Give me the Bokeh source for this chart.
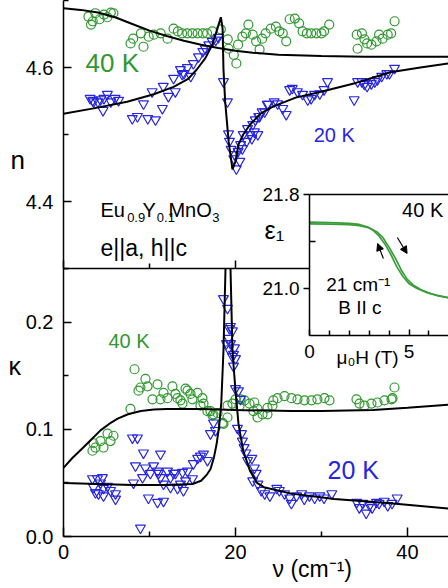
from bokeh.plotting import figure
from bokeh.models import (Range1d, FixedTicker, PrintfTickFormatter, Label, Arrow,
                          NormalHead, LinearAxis, Column)
from bokeh.embed import file_html
from bokeh.resources import INLINE

# ---------------- data: refractive index n (top panel) ----------------
nu_n40 = [2.9, 3.2, 3.4, 3.7, 4.2, 4.7, 5.1, 5.5, 5.8,
          7.8, 8.1, 9.0, 9.3, 9.9, 10.5, 11.3, 12.1, 12.8, 13.3, 13.8, 14.4, 15.0, 15.6, 16.2, 16.7, 17.3, 18.3,
          19.1, 19.2, 19.8, 20.1, 20.3, 20.8, 21.2, 21.5, 22.0, 22.4, 22.8, 23.1, 23.5, 24.1, 24.7, 25.1, 25.5,
          25.9, 26.3, 26.9, 27.4, 27.8, 28.3, 28.8, 29.4, 30.0, 30.3, 30.9,
          34.1, 34.2, 34.7, 35.0, 35.3, 35.8, 36.4, 36.7, 37.1, 37.7, 38.1, 38.5]
n40 = [4.676, 4.664, 4.669, 4.681, 4.672, 4.679, 4.675, 4.682, 4.681,
       4.636, 4.643, 4.651, 4.631, 4.646, 4.649, 4.651, 4.643, 4.658, 4.654, 4.651, 4.651, 4.651, 4.651, 4.651, 4.651, 4.654, 4.657,
       4.642, 4.628, 4.619, 4.606, 4.634, 4.646, 4.651, 4.664, 4.649, 4.639, 4.627, 4.643, 4.651, 4.658, 4.661, 4.654, 4.651,
       4.639, 4.672, 4.673, 4.666, 4.654, 4.651, 4.651, 4.651, 4.651, 4.654, 4.664,
       4.649, 4.628, 4.651, 4.642, 4.636, 4.634, 4.639, 4.649, 4.643, 4.649, 4.651, 4.669]

nu_n20 = [3.1, 3.4, 3.5, 4.0, 4.3, 4.6, 4.7, 5.1, 5.5, 6.0, 6.4,
          8.0, 8.6, 9.3, 9.8, 10.3, 10.7, 11.5, 11.6, 12.2, 12.8, 13.0, 13.6, 13.8, 14.0, 14.4, 14.8, 15.1, 15.7,
          16.2, 16.5, 16.9, 17.3, 17.7, 18.0,
          18.6, 19.07, 19.19, 19.3, 19.5, 19.8, 19.9, 20.1, 20.3, 20.5, 20.6, 20.8, 20.9, 21.3, 21.4, 21.7, 21.9,
          22.0, 22.2, 22.3, 22.6, 22.7, 22.8, 23.1, 23.4, 23.7, 23.8, 24.5, 24.9, 25.5, 25.9, 26.3, 26.6, 27.2,
          27.8, 28.4, 28.8, 29.2, 29.8, 30.3, 30.7,
          33.8, 34.2, 34.7, 35.0, 35.3, 35.8, 36.2, 36.5, 37.0, 37.6, 37.9, 38.5]
n20 = [4.554, 4.551, 4.549, 4.549, 4.552, 4.536, 4.554, 4.560, 4.549, 4.554, 4.551,
       4.524, 4.527, 4.546, 4.524, 4.564, 4.522, 4.539, 4.572, 4.557, 4.584, 4.564, 4.597, 4.590, 4.591, 4.600,
       4.587, 4.606, 4.616, 4.624, 4.628, 4.634, 4.639, 4.641, 4.645,
       4.579, 4.549, 4.501, 4.490, 4.478, 4.464, 4.470, 4.449, 4.475, 4.460, 4.485, 4.479, 4.500, 4.490, 4.509,
       4.500, 4.494, 4.515, 4.504, 4.522, 4.500, 4.527, 4.527, 4.534, 4.534, 4.545, 4.545, 4.549, 4.546, 4.539,
       4.530, 4.567, 4.569, 4.564, 4.560, 4.552, 4.554, 4.560, 4.561, 4.567, 4.579,
       4.552, 4.579, 4.579, 4.575, 4.572, 4.576, 4.579, 4.582, 4.587, 4.591, 4.591, 4.599]

fit_nu_n40 = [0, 2, 4, 6, 8, 10, 12, 14, 16, 18, 20, 22, 25, 30, 35, 40, 44.8]
fit_n40 = [4.6885, 4.686, 4.682, 4.675, 4.665, 4.655, 4.647, 4.640, 4.634, 4.629, 4.625, 4.622, 4.619,
           4.617, 4.616, 4.616, 4.616]

fit_nu_n20 = [0, 3.5, 7.4, 10.5, 12.8, 14.5, 15.5, 16.5, 17.3, 17.9, 18.3, 18.5, 18.6, 18.8, 19.2, 19.65,
              20.0, 20.35, 20.9, 21.7, 22.9, 24.4, 27.0, 30.3, 34.0, 38.0, 41.5, 44.8]
fit_n20 = [4.531, 4.539, 4.549, 4.560, 4.571, 4.583, 4.597, 4.614, 4.634, 4.658, 4.675, 4.658, 4.598, 4.549,
           4.490, 4.448, 4.460, 4.485, 4.500, 4.515, 4.531, 4.542, 4.555, 4.565, 4.577, 4.593, 4.600, 4.606]

# ---------------- data: extinction kappa (bottom panel) ----------------
nu_k40 = [3.37, 3.49, 3.72, 4.30, 4.65, 5.12, 5.47, 5.81,
          7.79, 8.26, 8.72, 8.95, 9.53, 9.77, 10.35, 10.93, 11.28, 11.63, 12.09, 12.67, 13.02, 13.26, 13.6,
          13.84, 14.19, 14.42, 14.77, 15.0, 15.58, 15.93, 16.16, 16.28, 16.74, 17.09, 17.33, 17.44, 17.91, 18.49, 18.6,
          19.07, 19.07, 19.65, 20.0, 20.47, 20.58, 21.05, 21.63, 22.09, 22.2, 22.56, 22.56, 23.14, 23.72, 23.72,
          24.3, 24.4, 24.88, 25.7, 26.51, 27.21, 28.02, 28.84, 29.53, 30.35, 30.93,
          34.07, 34.42, 35.0, 35.81, 36.51, 37.33, 38.14, 38.26, 38.49]
k40 = [0.080, 0.087, 0.083, 0.089, 0.083, 0.096, 0.089, 0.094,
       0.119, 0.156, 0.136, 0.139, 0.147, 0.140, 0.128, 0.142, 0.128, 0.134, 0.129, 0.140, 0.133, 0.129, 0.127,
       0.124, 0.138, 0.136, 0.133, 0.128, 0.134, 0.122, 0.129, 0.124, 0.117, 0.117, 0.113, 0.114, 0.115, 0.106, 0.105,
       0.111, 0.122, 0.124, 0.128, 0.122, 0.128, 0.127, 0.124, 0.117, 0.125, 0.111, 0.119, 0.114, 0.114, 0.120,
       0.122, 0.127, 0.129, 0.131, 0.129, 0.128, 0.127, 0.127, 0.128, 0.129, 0.127,
       0.128, 0.124, 0.122, 0.124, 0.125, 0.127, 0.128, 0.129, 0.139]

nu_k20 = [3.37, 3.49, 3.72, 3.95, 4.07, 4.30, 4.53, 4.65, 4.65, 5.12, 5.47, 6.05, 6.05,
          8.02, 8.14, 8.37, 8.6, 8.95, 9.19, 9.3, 9.53, 9.88, 10.1, 10.47, 10.93, 10.93, 11.05, 11.28, 11.28,
          11.63, 11.63, 12.09, 12.44, 12.44, 12.79, 13.02, 13.26, 13.6, 13.84, 13.95, 14.2, 14.42, 15.0, 15.1,
          15.6, 15.93, 16.28, 16.74, 17.09, 17.44, 17.67,
          18.6, 18.95, 19.07, 19.19, 19.19, 19.3, 19.42, 19.42, 19.65, 19.65, 19.77, 19.88, 20.0, 19.77, 20.0,
          20.35, 20.58, 20.23,
          20.7, 20.8, 21.0, 21.2, 21.4, 21.9, 22.2, 22.4, 22.0, 22.6, 23.0, 23.4, 24.0, 24.8, 25.1, 25.7, 26.3,
          26.5, 27.1, 27.7, 28.0, 28.6, 29.2, 29.8, 30.3, 31.2,
          34.1, 34.4, 34.8, 35.2, 35.6, 35.9, 36.4, 36.7, 37.3, 37.7, 38.2, 38.8]
k20 = [0.054, 0.046, 0.041, 0.054, 0.040, 0.050, 0.055, 0.045, 0.038, 0.047, 0.043, 0.040, 0.035,
       0.092, 0.050, 0.066, 0.092, 0.008, 0.055, 0.078, 0.064, 0.036, 0.059, 0.066, 0.061, 0.032, 0.059, 0.077,
       0.055, 0.049, 0.033, 0.061, 0.055, 0.046, 0.059, 0.059, 0.045, 0.049, 0.060, 0.043, 0.052, 0.061, 0.054,
       0.068, 0.073, 0.075, 0.077, 0.071, 0.096, 0.106, 0.099,
       0.222, 0.180, 0.213, 0.185, 0.175, 0.194, 0.196, 0.180, 0.192, 0.168, 0.170, 0.176, 0.166, 0.159, 0.138,
       0.136, 0.128, 0.101,
       0.096, 0.089, 0.083, 0.078, 0.071, 0.073, 0.064, 0.059, 0.052, 0.049, 0.043, 0.040, 0.038, 0.045, 0.043,
       0.040, 0.036, 0.031, 0.038, 0.040, 0.035, 0.038, 0.036, 0.038, 0.036, 0.040,
       0.032, 0.027, 0.031, 0.022, 0.029, 0.027, 0.032, 0.031, 0.033, 0.029, 0.031, 0.036]

fit_nu_k40 = [0, 1, 2.3, 3.3, 4.3, 5.3, 6.3, 7.5, 9, 10.5, 12, 14, 16, 20, 26.5, 30, 36, 40, 44.8]
fit_k40 = [0.064, 0.073, 0.083, 0.091, 0.099, 0.105, 0.110, 0.114, 0.117, 0.1185, 0.119, 0.119, 0.119,
           0.118, 0.117, 0.117, 0.118, 0.120, 0.123]

fit_nu_k20 = [0, 4, 8, 12, 15, 16, 16.7, 17.1, 17.5, 17.8, 18.1, 18.35, 18.6, 18.84, 19.0, 19.13, 19.26,
              19.42, 19.65, 20.0, 20.35, 20.9, 21.7, 22.5, 23.3, 26.5, 31.5, 38, 44.8]
fit_k20 = [0.050, 0.049, 0.048, 0.048, 0.049, 0.052, 0.058, 0.063, 0.074, 0.086, 0.103, 0.125, 0.173, 0.25,
           0.31, 0.33, 0.31, 0.25, 0.173, 0.136, 0.105, 0.080, 0.061, 0.050, 0.046, 0.040, 0.035, 0.031, 0.026]

# ---------------- inset: eps1 vs field ----------------
H_a = [0, 1.0, 2.0, 2.5, 2.9, 3.2, 3.5, 3.8, 4.1, 4.4, 4.7, 5.0, 5.4, 5.9, 6.4, 7.0]
eps_a = [21.565, 21.56, 21.555, 21.545, 21.525, 21.495, 21.445, 21.375, 21.285, 21.18, 21.10, 21.04, 21.00,
         20.965, 20.94, 20.92]
H_b = [0, 1.0, 2.0, 2.5, 3.0, 3.4, 3.7, 4.0, 4.3, 4.6, 4.9, 5.2, 5.6, 6.1, 6.6, 7.0]
eps_b = [21.55, 21.548, 21.543, 21.535, 21.515, 21.48, 21.43, 21.35, 21.26, 21.16, 21.08, 21.03, 20.99,
         20.955, 20.935, 20.92]

FONT = "Liberation Sans"
GREEN = "#2f982f"
BLUE = "#2626e0"
W = 448
LEFT = 63
PH = 268
TOPB = 30
BOTB = 50
TOTAL_H = 2 * PH + BOTB          # 586
INS_L, INS_T, INS_B = 48, 14, 40
INS_FW, INS_FH = 141, 141
INS_W = INS_L + INS_FW
INS_H = INS_T + INS_FH + INS_B
INS_X = 307 - INS_L
INS_Y = 194 - INS_T
LIFT = 8   # screen-pixel correction so the alphabetic baseline lands where intended


def style_axis(ax, ticks, minor, fmt, size="20px", tin=8, minin=5, show=True, standoff=10, tout=0):
    ax.ticker = FixedTicker(ticks=ticks, minor_ticks=minor)
    ax.formatter = PrintfTickFormatter(format=fmt)
    ax.major_tick_in = tin
    ax.major_tick_out = tout
    ax.minor_tick_in = minin
    ax.minor_tick_out = 0
    ax.axis_line_width = 1.5
    ax.major_tick_line_width = 1.5
    ax.minor_tick_line_width = 1.5
    ax.major_label_text_font = FONT
    ax.major_label_text_font_size = size
    ax.major_label_text_color = "black" if show else None
    ax.major_label_standoff = standoff if show else 0


def lab(p, x, y, text, size, color="black", baseline="alphabetic", align="left"):
    p.add_layout(Label(x=x, y=y, text=text, text_font=FONT, text_font_size=f"{size}px",
                       text_color=color, text_baseline=baseline, text_align=align, y_offset=LIFT))


xr = Range1d(0, 44.77)

# ---------------- top panel ----------------
top = figure(width=W, height=PH + TOPB, x_range=xr, y_range=Range1d(4.3, 4.7), output_backend="svg",
             toolbar_location=None, title=None, min_border_left=LEFT, min_border_right=0, min_border_top=0,
             min_border_bottom=TOPB, background_fill_color=None, border_fill_color=None,
             outline_line_color=None, frame_align=False, margin=(0, 0, 0, 0))
top.grid.visible = False
style_axis(top.yaxis[0], [4.4, 4.6], [4.3, 4.5, 4.7], "%.1f")
style_axis(top.xaxis[0], [0, 20, 40], [10, 30], "%d", show=False)

top.scatter(nu_n40, n40, marker="circle", size=9, fill_color=None, line_color=GREEN, line_width=1.2)
top.scatter(nu_n20, n20, marker="inverted_triangle", size=10, fill_color=None, line_color=BLUE, line_width=1.2)
top.line(fit_nu_n40, fit_n40, line_color="black", line_width=2)
top.line(fit_nu_n20, fit_n20, line_color="black", line_width=2)

lab(top, 2.56, 4.5955, "40 K", 26, GREEN)
lab(top, 29.1, 4.4866, "20 K", 20, BLUE)
# formula Eu0.9Y0.1MnO3
lab(top, 4.3, 4.3761, "Eu", 20)
lab(top, 7.4, 4.3642, "0.9", 13)
lab(top, 9.2, 4.3761, "Y", 20)
lab(top, 10.85, 4.3642, "0.1", 13)
lab(top, 12.2, 4.3761, "MnO", 20)
lab(top, 17.3, 4.3642, "3", 13)
lab(top, 4.3, 4.3194, "e||a, h||c", 23)

# ---------------- bottom panel ----------------
bot = figure(width=W, height=PH + BOTB, x_range=xr, y_range=Range1d(0, 0.25), output_backend="svg",
             toolbar_location=None, title=None, min_border_left=LEFT, min_border_right=0, min_border_top=0,
             min_border_bottom=BOTB, background_fill_color=None, border_fill_color=None,
             outline_line_color=None, frame_align=False, margin=(-TOPB, 0, 0, 0))
bot.grid.visible = False
style_axis(bot.yaxis[0], [0.0, 0.1, 0.2], [0.05, 0.15, 0.25], "%.1f")
style_axis(bot.xaxis[0], [0, 20, 40], [10, 30], "%d", tin=9, minin=5, standoff=8)

bot.scatter(nu_k40, k40, marker="circle", size=9, fill_color=None, line_color=GREEN, line_width=1.2)
bot.scatter(nu_k20, k20, marker="inverted_triangle", size=10, fill_color=None, line_color=BLUE, line_width=1.2)
bot.line(fit_nu_k40, fit_k40, line_color="black", line_width=2)
bot.line(fit_nu_k20, fit_k20, line_color="black", line_width=2)

lab(bot, 5.23, 0.1749, "40 K", 20, GREEN)
lab(bot, 30.7, 0.0549, "20 K", 25, BLUE)

# ---------------- inset ----------------
ins = figure(width=INS_W, height=INS_H, x_range=Range1d(0, 6.98), y_range=Range1d(20.6, 21.8),
             output_backend="svg", toolbar_location=None, title=None, min_border_left=INS_L,
             min_border_right=0, min_border_top=INS_T, min_border_bottom=INS_B,
             background_fill_color="white", border_fill_color=None, outline_line_color=None,
             frame_align=False, margin=(INS_Y - TOTAL_H, 0, 0, INS_X))
ins.grid.visible = False
style_axis(ins.yaxis[0], [21.0, 21.8], [21.4], "%.1f", size="19px", tin=0, tout=6, minin=6, standoff=4)
style_axis(ins.xaxis[0], [0, 5], [1, 2, 3, 4, 6], "%d", size="19px", tin=6, minin=5, standoff=9)
ins.add_layout(LinearAxis(ticker=FixedTicker(ticks=[]), major_label_text_color=None, major_tick_in=0,
                          major_tick_out=0, minor_tick_in=0, minor_tick_out=0, axis_line_width=1.5,
                          major_label_standoff=0), "above")

ins.line(H_a, eps_a, line_color="#3a9e3a", line_width=1.7)
ins.line(H_b, eps_b, line_color="#3a9e3a", line_width=1.7)
ins.add_layout(Arrow(end=NormalHead(size=7, line_color="black", fill_color="black"),
                     x_start=3.71, y_start=21.255, x_end=3.42, y_end=21.383, line_width=1.2))
ins.add_layout(Arrow(end=NormalHead(size=7, line_color="black", fill_color="black"),
                     x_start=4.41, y_start=21.434, x_end=4.90, y_end=21.298, line_width=1.2))

lab(ins, 4.65, 21.596, "40 K", 20)
lab(ins, 0.84, 20.966, "21 cm⁻¹", 19)
lab(ins, 1.44, 20.77, "B II c", 19)

# ---------------- overlay (page pixel coordinates) for texts outside the plot frames ----------------
ovl = figure(width=W, height=TOTAL_H, x_range=Range1d(0, W), y_range=Range1d(TOTAL_H, 0),
             output_backend="svg", toolbar_location=None, title=None, min_border=0,
             min_border_left=0, min_border_right=0, min_border_top=0, min_border_bottom=0,
             x_axis_location=None, y_axis_location=None, background_fill_color=None,
             border_fill_color=None, outline_line_color=None, frame_align=False,
             margin=(-(INS_Y + INS_H), 0, 0, 0))
ovl.grid.visible = False
lab(ovl, 10, 167, "n", 26)
lab(ovl, 8, 373, "κ", 25)
lab(ovl, 272, 576, "ν (cm⁻¹)", 23)
lab(ovl, 264, 237, "ε₁", 25)
lab(ovl, 336, 365, "μ₀H (T)", 19)

layout = Column(children=[top, bot, ins, ovl], spacing=0)

open("out.html", "w").write(file_html(layout, INLINE))
